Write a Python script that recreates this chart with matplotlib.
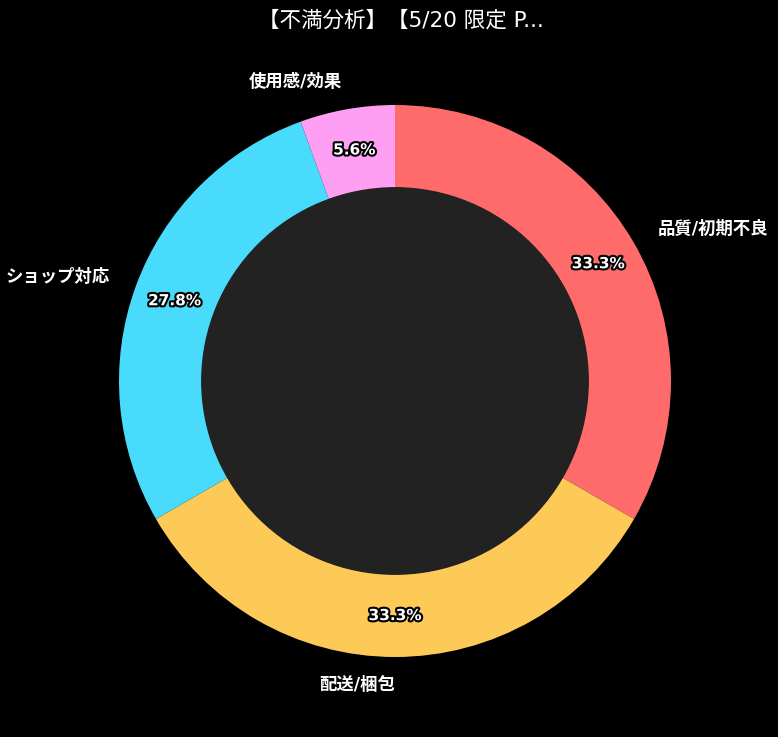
import matplotlib
matplotlib.use("Agg")
import matplotlib.pyplot as plt
import matplotlib.patheffects as pe

plt.rcParams['font.family'] = ['DejaVu Sans', 'Noto Sans CJK JP']

categories = ["品質/初期不良", "配送/梱包", "ショップ対応", "使用感/効果"]
counts = [6, 6, 5, 1]
colors = ["#FF6B6B", "#FECA57", "#48DBFB", "#FF9FF3"]
title = "【不満分析】【5/20 限定 P..."

fig = plt.figure(figsize=(7.78, 7.37), dpi=100, facecolor="black")
ax = fig.add_axes([50/778, 11/737, 690/778, 690/737])
ax.set_facecolor("black")

wedges, texts, autotexts = ax.pie(
    counts, labels=categories, colors=colors, autopct="%1.1f%%",
    startangle=90, counterclock=False, pctdistance=0.85, labeldistance=1.1,
    wedgeprops=dict(width=0.3),
    textprops=dict(color="white", fontsize=12.5, fontweight="bold"),
)
for t in autotexts:
    t.set_fontsize(11)
    t.set_fontweight("bold")
    t.set_path_effects([pe.withStroke(linewidth=3, foreground="black")])

centre = plt.Circle((0, 0), 0.7, color="#222222")
ax.add_artist(centre)
ax.set_aspect("equal")

fig.text(401/778, 1 - 20/737, title, color="white", fontsize=15.5,
         ha="center", va="center")

fig.savefig("out.png", dpi=100, facecolor="black")
